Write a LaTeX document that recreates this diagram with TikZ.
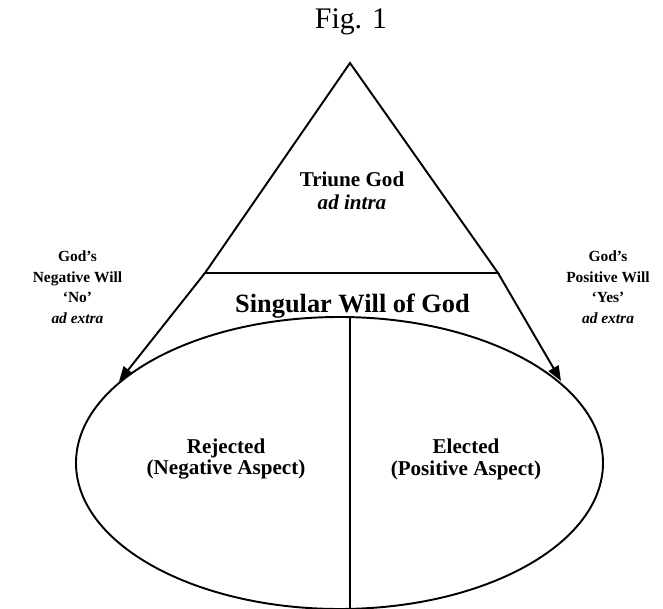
\documentclass[tikz,border=0pt]{standalone}
\usepackage{fontspec}
\setmainfont{Liberation Serif}
\usetikzlibrary{arrows.meta}

\begin{document}
\begin{tikzpicture}
%\draw[help lines] (-7,-6) grid (7,6);
\useasboundingbox (-7,-5.82) rectangle (6.26,6.34);

\coordinate (apex) at (0,5.08);
\coordinate (lcorner) at (-2.9,0.88);
\coordinate (rcorner) at (2.96,0.88);
\coordinate (ltip) at (-4.62,-1.29);
\coordinate (rtip) at (4.22,-1.28);
\coordinate (ctop) at (0,0);
\coordinate (cbottom) at (0,-5.82);

\draw[line width=1.1pt] (lcorner) -- (apex) -- (rcorner) -- cycle;
\draw[line width=1.1pt] (-0.21,-2.92) ellipse [x radius=5.27, y radius=2.92];
\draw[line width=1.1pt] (ctop) -- (cbottom);

\draw[-{Triangle[length=8.5pt,width=6.5pt]},line width=1.1pt] (lcorner) -- (ltip);
\draw[-{Triangle[length=8.5pt,width=6.5pt]},line width=1.1pt] (rcorner) -- (rtip);

\node (fig) at (0.02,5.9) {\fontsize{17}{20}\selectfont Fig. 1};
\node[align=center,font=\fontsize{12}{13}\selectfont\bfseries] (triune) at (0.04,2.52) {Triune God\\\textit{ad intra}};
\node[anchor=base,font=\fontsize{15}{18}\selectfont\bfseries] (singular) at (0.05,0.08) {Singular Will of God};

\node[align=center,font=\fontsize{8.8}{11.7}\selectfont\bfseries] (neg) at (-5.45,0.6) {God's\\Negative Will\\`No'\\\textit{ad extra}};
\node[align=center,font=\fontsize{8.8}{11.7}\selectfont\bfseries] (pos) at (5.16,0.6) {God's\\Positive Will\\`Yes'\\\textit{ad extra}};

\node[align=center,font=\fontsize{12}{12.5}\selectfont\bfseries] (rejected) at (-2.48,-2.84) {Rejected\\(Negative Aspect)};
\node[align=center,font=\fontsize{12}{12.5}\selectfont\bfseries] (elected) at (2.32,-2.84) {Elected\\(Positive Aspect)};
\end{tikzpicture}
\end{document}
